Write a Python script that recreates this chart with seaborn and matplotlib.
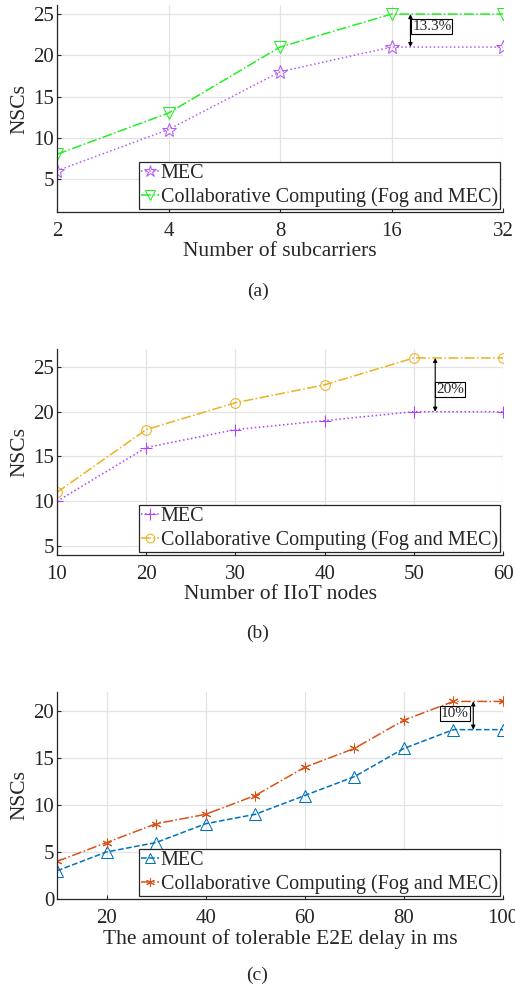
import matplotlib.pyplot as plt
import seaborn as sns

# panel (a)
subcarriers = [2, 4, 8, 16, 32]
mec_a = [6, 11, 18, 21, 21]
collab_a = [8, 13, 21, 25, 25]

# panel (b)
iiot_nodes = [10, 20, 30, 40, 50, 60]
mec_b = [10, 16, 18, 19, 20, 20]
collab_b = [11, 18, 21, 23, 26, 26]

# panel (c)
delay_ms = [10, 20, 30, 40, 50, 60, 70, 80, 90, 100]
mec_c = [3, 5, 6, 8, 9, 11, 13, 16, 18, 18]
collab_c = [4, 6, 8, 9, 11, 14, 16, 19, 21, 21]

labels = ['MEC', 'Collaborative Computing (Fog and MEC)']

sns.set_style('whitegrid')
plt.rcParams['font.family'] = ['Liberation Serif', 'DejaVu Serif']
plt.rcParams['mathtext.fontset'] = 'stix'

fig = plt.figure(figsize=(5.15, 9.91), dpi=100)
W, H = 515, 991


def make_axes(top, bottom):
    return fig.add_axes([57 / W, 1 - bottom / H, 446 / W, (bottom - top) / H])


def style_axes(ax):
    ax.set_facecolor('white')
    for s in ['top', 'right']:
        ax.spines[s].set_visible(False)
    for s in ['left', 'bottom']:
        ax.spines[s].set_color('#262626')
        ax.spines[s].set_linewidth(0.9)
    ax.grid(True, which='major', color='#e3e3e3', linewidth=0.9)
    ax.tick_params(direction='in', length=3, labelsize=15, colors='#262626',
                   left=True, bottom=True)
    ax.tick_params(axis='x', pad=7)
    ax.tick_params(axis='y', pad=2)
    ax.set_ylabel('NSCs', fontsize=15.5, color='#262626', labelpad=3)


def legend(ax):
    leg = ax.legend(loc='lower right', fontsize=14.5, frameon=True, fancybox=False,
                    edgecolor='#262626', framealpha=1, handlelength=0.9,
                    handletextpad=0.1, borderpad=0.1, labelspacing=0.2,
                    borderaxespad=0.15, markerscale=0.9)
    leg.get_frame().set_linewidth(0.9)


def gap(ax, x, y0, y1, text, tx, ty):
    ax.annotate('', xy=(x, y0), xytext=(x, y1),
                arrowprops=dict(arrowstyle='<|-|>', color='black', lw=0.8,
                                mutation_scale=6, shrinkA=0, shrinkB=0))
    ax.text(tx, ty, text, fontsize=11, va='center', ha='left',
            bbox=dict(boxstyle='square,pad=0.05', fc='white', ec='black', lw=0.8))


# (a)
ax = make_axes(5, 212)
sns.lineplot(x=subcarriers, y=mec_a, ax=ax, color='#b45cf5', linestyle=':',
             marker='*', markersize=10, markerfacecolor='none',
             markeredgecolor='#b45cf5', label=labels[0], lw=1.1)
sns.lineplot(x=subcarriers, y=collab_a, ax=ax, color='#22ee22', linestyle='-.',
             marker='v', markersize=8, markerfacecolor='none',
             markeredgecolor='#22ee22', label=labels[1], lw=1.1)
ax.set_xscale('log', base=2)
ax.set_xlim(2, 32)
ax.set_xticks(subcarriers)
ax.set_xticklabels([str(v) for v in subcarriers])
ax.set_ylim(1, 26.1)
ax.set_yticks([5, 10, 15, 20, 25])
ax.grid(True, which='minor', axis='x', color='#e6e6e6', linewidth=0.7, linestyle='--')
style_axes(ax)
ax.minorticks_on()
ax.tick_params(which='minor', direction='in', length=1.5, left=False)
ax.set_xlabel('Number of subcarriers', fontsize=15.5, color='#262626', labelpad=1)
legend(ax)
gap(ax, 18, 21, 25, '13.3%', 18.2, 23.5)
fig.text(0.5, 1 - 291 / H, '(a)', ha='center', va='center', fontsize=14)

# (b)
ax = make_axes(349, 555)
sns.lineplot(x=iiot_nodes, y=mec_b, ax=ax, color='#b040ff', linestyle=':',
             marker='+', markersize=9, markeredgecolor='#b040ff',
             label=labels[0], lw=1.1)
sns.lineplot(x=iiot_nodes, y=collab_b, ax=ax, color='#edb120', linestyle='-.',
             marker='o', markersize=7, markerfacecolor='none',
             markeredgecolor='#edb120', label=labels[1], lw=1.1)
ax.set_xlim(10, 60)
ax.set_xticks(iiot_nodes)
ax.set_ylim(4, 27)
ax.set_yticks([5, 10, 15, 20, 25])
style_axes(ax)
ax.set_xlabel('Number of IIoT nodes', fontsize=15.5, color='#262626', labelpad=1)
legend(ax)
gap(ax, 52.4, 20, 26, '20%', 52.5, 22.5)
fig.text(0.5, 1 - 633 / H, '(b)', ha='center', va='center', fontsize=14)

# (c)
ax = make_axes(692, 899)
sns.lineplot(x=delay_ms, y=mec_c, ax=ax, color='#0072bd', linestyle='--',
             marker='^', markersize=8, markerfacecolor='none',
             markeredgecolor='#0072bd', label=labels[0], lw=1.1)
sns.lineplot(x=delay_ms, y=collab_c, ax=ax, color='#d95319', linestyle='-.',
             marker=(6, 2, 0), markersize=7, markeredgecolor='#d95319',
             label=labels[1], lw=1.1)
ax.set_xlim(10, 100)
ax.set_xticks([20, 40, 60, 80, 100])
ax.set_ylim(0, 22)
ax.set_yticks([0, 5, 10, 15, 20])
style_axes(ax)
ax.set_xlabel('The amount of tolerable E2E delay in ms', fontsize=15.5,
              color='#262626', labelpad=1)
legend(ax)
gap(ax, 94, 18, 21, '10%', 87.5, 19.7)
fig.text(0.5, 1 - 975 / H, '(c)', ha='center', va='center', fontsize=14)

fig.savefig('out.png', dpi=100)
